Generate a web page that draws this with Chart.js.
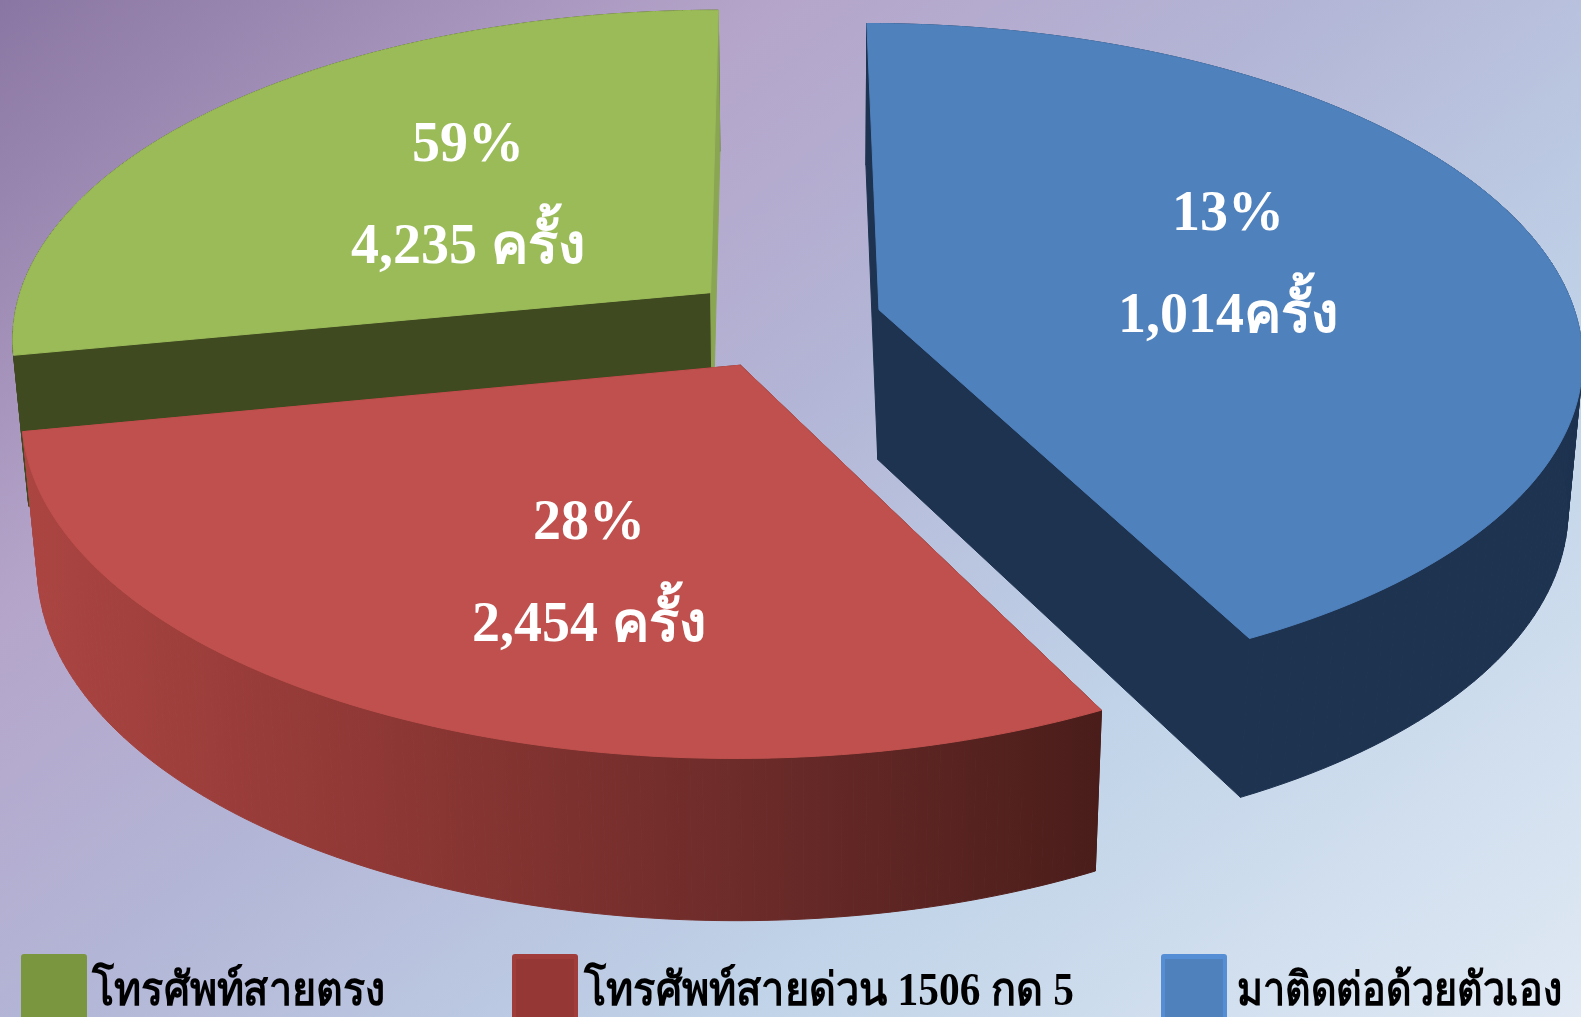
<!DOCTYPE html>
<html>
<head>
<meta charset="utf-8">
<title>pie</title>
<style>
  html, body { margin: 0; padding: 0; overflow: hidden; }
  canvas { display: block; }
</style>
</head>
<body>
<canvas id="pie-chart" width="1581" height="1017"></canvas>
<script src="https://cdn.jsdelivr.net/npm/chart.js@4"></script>
<script>
const categories = ["โทรศัพท์สายตรง", "โทรศัพท์สายด่วน 1506 กด 5", "มาติดต่อด้วยตัวเอง"];
const percentLabels = ["59%", "28%", "13%"];
const countLabels = ["4,235 ครั้ง", "2,454 ครั้ง", "1,014ครั้ง"];
// slice sizes as measured on the picture, they do not follow the printed percentages
const sliceSizes = [101, 105.85, 153.15];

const topColors = ["#9bbb59", "#c0504d", "#4f81bd"];
const legendColors = ["#7a963e", "#953735", "#4f81bd"];
const legendBorders = ["#7a963e", "#a03c3a", "#558ed5"];

// perspective of the pie plane
const view = { cx: 776, horizon: -2117, dist: 2450, g: 0.135, s: 702 };
const explode = [[-0.0947, 0.124], [-0.0499, -0.096], [0.1481, 0.071]];
const labelPos = [[468, 161, 263], [589, 539, 641], [1228, 230, 332]];
const legendPos = [[21, 92, 293], [512, 584, 490], [1161, 1237, 325]];

function project(u, v) {
  const w = 1 + view.g * v;
  return [view.cx + view.s * u / w, view.horizon + view.dist / w];
}

// where a point of the top face lands on the bottom face
function drop(p) {
  const dy = 141 + 0.028 * p[1];
  return [p[0] + (813 - p[0]) / (8268 - p[1]) * dy, p[1] + dy];
}

function fillPoly(ctx, pts, fill) {
  ctx.beginPath();
  pts.forEach((p, i) => i ? ctx.lineTo(p[0], p[1]) : ctx.moveTo(p[0], p[1]));
  ctx.closePath();
  ctx.fillStyle = fill;
  ctx.fill();
  // hides the hairline between neighbouring pieces
  ctx.strokeStyle = fill;
  ctx.lineWidth = 1;
  ctx.stroke();
}

function wallFill(ctx, i) {
  if (i === 0) return "#404a20";
  if (i === 2) return "#1e3350";
  const g = ctx.createLinearGradient(22, 0, 1100, 0);
  g.addColorStop(0, "#ab4542");
  g.addColorStop(0.35, "#8d3734");
  g.addColorStop(0.7, "#692a28");
  g.addColorStop(1, "#4a1d1a");
  return g;
}

const pie3d = {
  id: "pie3d",
  beforeDraw(chart) {
    const { ctx, width, height } = chart;
    const g = ctx.createLinearGradient(0, 0, 1102, 1396);
    g.addColorStop(0, "#8a76a2");
    g.addColorStop(0.265, "#b5a4ca");
    g.addColorStop(0.455, "#b3b5d6");
    g.addColorStop(0.7, "#c0d3e8");
    g.addColorStop(1, "#e0e9f4");
    ctx.fillStyle = g;
    ctx.fillRect(0, 0, width, height);
  },
  beforeDatasetsDraw(chart) {
    const { ctx } = chart;
    const arcs = chart.getDatasetMeta(0).data;
    // far slice first, the red one sits over it
    [0, 2, 1].forEach(i => {
      const arc = arcs[i];
      const [ou, ov] = explode[i];
      const rim = [];
      const steps = 120;
      for (let k = 0; k <= steps; k++) {
        const a = arc.startAngle + (arc.endAngle - arc.startAngle) * k / steps;
        // slices run anticlockwise here
        rim.push(project(ou - Math.cos(a), ov - Math.sin(a)));
      }
      const apex = project(ou, ov);
      const first = rim[0];
      const last = rim[rim.length - 1];
      const wall = wallFill(ctx, i);
      // one quad per rim step, a single outline would lose the silhouette edge
      for (let k = 0; k < steps; k++) {
        fillPoly(ctx, [rim[k], rim[k + 1], drop(rim[k + 1]), drop(rim[k])], wall);
      }
      fillPoly(ctx, [apex, last, drop(last), drop(apex)], wall);
      fillPoly(ctx, [apex, first, drop(first), drop(apex)], i === 0 ? "#8aa653" : wall);
      fillPoly(ctx, [apex].concat(rim), topColors[i]);
    });
    return false;
  },
  afterDraw(chart) {
    const { ctx } = chart;
    ctx.save();
    ctx.textAlign = "center";
    ctx.textBaseline = "alphabetic";
    ctx.fillStyle = "#ffffff";
    ctx.font = "bold 56px 'Liberation Serif'";
    labelPos.forEach((p, i) => {
      ctx.fillText(percentLabels[i], p[0], p[1]);
      ctx.fillText(countLabels[i], p[0], p[2]);
    });
    ctx.textAlign = "left";
    ctx.font = "bold 46px 'Liberation Serif'";
    legendPos.forEach((p, i) => {
      ctx.fillStyle = legendBorders[i];
      ctx.beginPath();
      ctx.roundRect(p[0], 954, 66, 66, 3);
      ctx.fill();
      ctx.fillStyle = legendColors[i];
      ctx.fillRect(p[0] + 4, 959, 58, 58);
      ctx.fillStyle = "#000000";
      ctx.fillText(categories[i], p[1], 1005, p[2]);
    });
    ctx.restore();
  }
};

new Chart(document.getElementById("pie-chart"), {
  type: "pie",
  data: {
    labels: categories,
    datasets: [{ data: sliceSizes, backgroundColor: topColors }]
  },
  options: {
    responsive: false,
    animation: false,
    plugins: { legend: { display: false }, tooltip: { enabled: false } }
  },
  plugins: [pie3d]
});
</script>
</body>
</html>
